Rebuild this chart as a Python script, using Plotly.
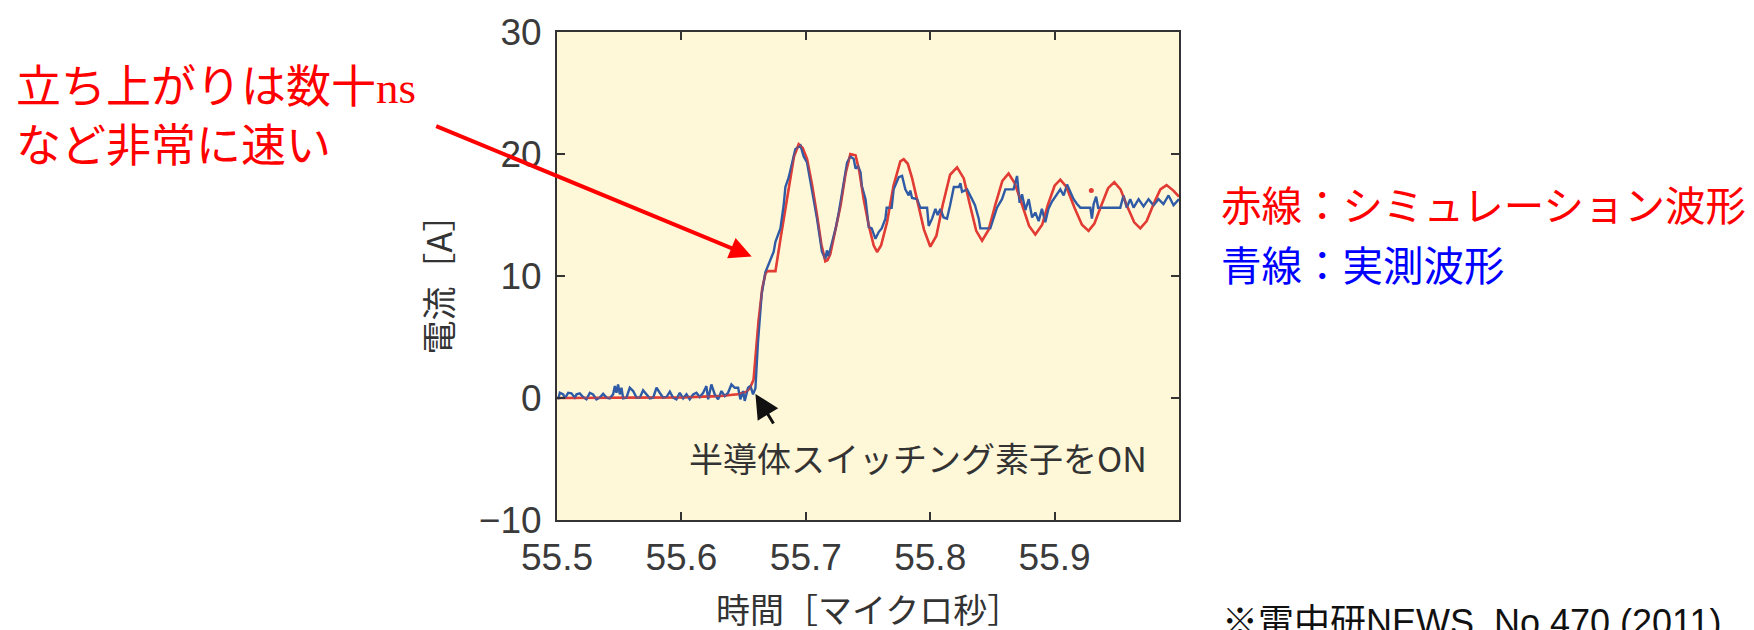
import plotly.graph_objects as go

# ---------------- data ----------------
red_x = [55.50, 55.55, 55.60, 55.63, 55.645, 55.652, 55.655, 55.658, 55.662, 55.665,
         55.6676, 55.669, 55.6756, 55.6796, 55.6863, 55.6905, 55.6943, 55.6975, 55.701, 55.705,
         55.709, 55.7125, 55.7157, 55.7175, 55.7197, 55.724, 55.728, 55.732, 55.7358, 55.74,
         55.743, 55.7465, 55.7505, 55.7546, 55.7573, 55.7605, 55.7653, 55.7705, 55.776, 55.7787,
         55.782, 55.7855, 55.7894, 55.795, 55.8001, 55.805, 55.81, 55.816, 55.8216, 55.827,
         55.832, 55.837, 55.8417, 55.847, 55.8525, 55.858, 55.863, 55.868, 55.874, 55.8795,
         55.8845, 55.89, 55.8945, 55.90, 55.9046, 55.9095, 55.916, 55.922, 55.9273, 55.932,
         55.938, 55.943, 55.948, 55.953, 55.958, 55.964, 55.9689, 55.974, 55.98, 55.985,
         55.990, 55.9955, 56.0]
red_y = [0.0, 0.0, 0.05, 0.15, 0.3, 0.5, 0.8, 1.5, 6.3, 9.0,
         10.2, 10.4, 10.4, 13.0, 17.1, 19.8, 20.8, 20.5, 19.6, 17.5,
         15.0, 12.6, 11.2, 11.3, 11.8, 13.8, 15.8, 18.4, 20.0, 19.9,
         18.6, 16.3, 14.2, 12.5, 11.97, 12.5, 14.4, 17.4, 19.4, 19.57,
         19.2, 18.0, 16.3, 13.8, 12.4, 13.3, 15.8, 18.3, 18.9, 18.0,
         15.8, 13.7, 12.9, 13.8, 15.9, 17.8, 18.4, 17.6, 15.8, 14.1,
         13.4, 14.2, 15.8, 17.4, 17.9, 17.3, 15.6, 14.2, 13.7, 14.3,
         15.9, 17.2, 17.7, 17.1, 15.8, 14.4, 13.9, 14.5, 16.0, 17.1,
         17.45, 17.0, 16.5]

blue_x = [55.5009, 55.5023, 55.505, 55.5063, 55.509, 55.5116, 55.5143, 55.5157, 55.5183, 55.521,
          55.5237, 55.5264, 55.529, 55.5317, 55.5344, 55.5371, 55.5398, 55.5424, 55.5451, 55.5465,
          55.5478, 55.5491, 55.5505, 55.5518, 55.5532, 55.5558, 55.5585, 55.5612, 55.5639, 55.5666,
          55.5692, 55.5719, 55.5746, 55.5773, 55.58, 55.5826, 55.5853, 55.588, 55.5907, 55.5933,
          55.596, 55.5987, 55.6014, 55.6041, 55.6067, 55.6094, 55.6121, 55.6148, 55.6175, 55.6201,
          55.6215, 55.6241, 55.6268, 55.6295, 55.6322, 55.6349, 55.6375, 55.6402, 55.6429, 55.6456,
          55.6474, 55.6496, 55.6509, 55.6536, 55.6555, 55.6576, 55.6595, 55.6615, 55.6645, 55.6675,
          55.670, 55.6716, 55.6742, 55.6756, 55.6782, 55.6796, 55.6822, 55.6836, 55.6863, 55.689,
          55.6916, 55.6957, 55.6983, 55.701, 55.705, 55.709, 55.713, 55.7157, 55.717, 55.7185,
          55.7197, 55.724, 55.7265, 55.7305, 55.7332, 55.7358, 55.7385, 55.74, 55.742, 55.744,
          55.745, 55.748, 55.7506, 55.753, 55.756, 55.7586, 55.761, 55.764, 55.765, 55.769,
          55.7706, 55.7747, 55.7774, 55.78, 55.7827, 55.784, 55.7854, 55.7894, 55.792, 55.7975,
          55.7988, 55.8015, 55.8042, 55.806, 55.8082, 55.8108, 55.8135, 55.816, 55.819, 55.823,
          55.8243, 55.8256, 55.8296, 55.8336, 55.836, 55.839, 55.8403, 55.8483, 55.851, 55.8537,
          55.8577, 55.8604, 55.867, 55.8698, 55.8719, 55.8738, 55.8765, 55.8792, 55.8819, 55.8845,
          55.8872, 55.8898, 55.8925, 55.895, 55.8979, 55.9006, 55.9046, 55.9073, 55.91, 55.9126,
          55.9153, 55.918, 55.9207, 55.9287, 55.930, 55.9314, 55.9334, 55.935, 55.9394, 55.9528,
          55.9554, 55.958, 55.9608, 55.9635, 55.9675, 55.9715, 55.9755, 55.9795, 55.9835, 55.9875,
          55.9916, 55.9956, 56.0]
blue_y = [-0.11, 0.43, 0.3, -0.03, 0.43, 0.38, 0.03, 0.3, 0.38, 0.08,
          -0.11, 0.43, 0.3, -0.11, 0.03, 0.35, 0.03, -0.03, 0.3, 0.98,
          0.43, 1.11, 0.3, 0.84, -0.03, 0.03, 0.84, 0.57, 0.03, 0.03,
          0.63, 0.3, -0.03, 0.03, 0.84, 0.43, 0.03, 0.08, 0.52, 0.03,
          -0.11, 0.43, -0.03, 0.3, -0.11, 0.3, 0.43, 0.08, 0.43, 0.98,
          -0.11, 1.11, 0.3, -0.11, 0.57, 0.16, 0.43, 1.11, 0.84, 0.84,
          -0.11, 0.57, -0.24, 0.84, 0.98, 0.3, 0.8, 4.5, 8.5, 10.3,
          10.9, 11.3, 12.0, 12.8, 13.6, 13.9, 15.8, 17.3, 18.1, 19.3,
          20.4, 20.7, 19.8, 19.3, 17.1, 14.7, 12.0, 11.4, 12.1, 11.6,
          12.2, 13.9, 15.2, 17.7, 19.3, 19.8, 19.6, 18.8, 19.0, 18.5,
          17.4, 16.3, 14.0, 13.9, 13.05, 13.6, 13.9, 14.7, 15.6, 15.6,
          17.1, 18.1, 18.2, 17.1, 16.6, 17.0, 16.4, 16.3, 15.6, 15.6,
          14.1, 14.7, 15.5, 15.0, 15.5, 14.8, 14.7, 15.8, 17.3, 17.3,
          17.6, 16.9, 17.1, 16.3, 15.8, 14.7, 13.9, 13.9, 14.7, 15.6,
          16.3, 17.1, 17.1, 18.2, 16.0, 16.7, 15.4, 16.3, 14.8, 15.2,
          14.5, 15.5, 14.4, 15.5, 16.1, 16.5, 17.1, 16.6, 17.5, 16.9,
          16.3, 15.9, 15.6, 15.6, 14.7, 15.9, 16.5, 15.6, 15.6, 15.6,
          16.6, 15.6, 16.3, 15.6, 16.3, 15.7, 16.3, 15.8, 16.3, 15.9,
          16.6, 15.8, 16.3]

dot_x = [55.9295]
dot_y = [17.0]

x_ticks = [55.5, 55.6, 55.7, 55.8, 55.9]
x_tick_text = ["55.5", "55.6", "55.7", "55.8", "55.9"]
y_ticks = [-10, 0, 10, 20, 30]
y_tick_text = ["\u221210", "0", "10", "20", "30"]

x_title = "時間［マイクロ秒］"
y_title = "電流［A］"
note_on = "半導体スイッチング素子をON"
red_note = "立ち上がりは数十<span style=\"font-family:'Liberation Serif', serif\">ns</span><br>など非常に速い"
legend_red = "赤線：シミュレーション波形"
legend_blue = "青線：実測波形"
citation = "※電中研NEWS\u00a0 No.470 (2011)"

# ---------------- figure ----------------
W, H = 1754, 630
PL, PR, PT, PB = 557, 1179, 29, 520          # plot area in page pixels
PW, PH = PR - PL, PB - PT
JP = "'Noto Sans CJK JP', sans-serif"
AXC = "#333333"


def px(xp):
    return (xp - PL) / PW


def py(yp):
    return (PB - yp) / PH


fig = go.Figure()
fig.add_trace(go.Scatter(x=red_x, y=red_y, mode="lines",
                         line=dict(color="#E23D35", width=2.6), showlegend=False))
fig.add_trace(go.Scatter(x=blue_x, y=blue_y, mode="lines",
                         line=dict(color="#2E5AA6", width=2.4), showlegend=False))
fig.add_trace(go.Scatter(x=red_x, y=red_y, mode="lines",
                         line=dict(color="#E23D35", width=1.6), opacity=0.55, showlegend=False))
fig.add_trace(go.Scatter(x=dot_x, y=dot_y, mode="markers",
                         marker=dict(color="#E23D35", size=5), showlegend=False))

axis_common = dict(showgrid=False, zeroline=False, showline=True, linecolor=AXC, linewidth=2,
                   mirror="ticks", ticks="inside", ticklen=8, tickwidth=1.6, tickcolor=AXC,
                   tickfont=dict(family="'Liberation Sans', Arial, sans-serif", size=37, color="#3a3a3a"))

fig.update_layout(
    width=W, height=H,
    margin=dict(l=PL, r=W - PR, t=PT, b=H - PB, pad=0),
    paper_bgcolor="white", plot_bgcolor="#FFF8D8",
    xaxis=dict(range=[55.5, 56.0], tickvals=x_ticks, ticktext=x_tick_text,
               ticklabelstandoff=4, **axis_common),
    yaxis=dict(range=[-10, 30], tickvals=y_ticks, ticktext=y_tick_text,
               ticklabelstandoff=6, **axis_common),
    showlegend=False,
)

ann = []
# axis titles
ann.append(dict(xref="paper", yref="paper", x=px(868), y=py(609), text=x_title,
                showarrow=False, xanchor="center", yanchor="middle",
                font=dict(family=JP, size=34, color="#333333")))
ann.append(dict(xref="paper", yref="paper", x=px(437), y=py(275), text=y_title,
                showarrow=False, xanchor="center", yanchor="middle", textangle=-90,
                font=dict(family=JP, size=34, color="#333333")))
# in-plot note with black arrow
ann.append(dict(xref="x", yref="y", x=55.7905, y=-4.9, text=note_on, showarrow=False,
                xanchor="center", yanchor="middle",
                font=dict(family=JP, size=34, color="#333333")))
ann.append(dict(xref="x", yref="y", x=55.6595, y=0.33, text="", showarrow=True,
                ax=19, ay=31, arrowhead=2, arrowsize=1.6, arrowwidth=3, arrowcolor="#111111"))
# red comment + red arrow
ann.append(dict(xref="paper", yref="paper", x=px(14), y=py(111), text=red_note,
                showarrow=False, xanchor="left", yanchor="middle", align="left",
                font=dict(family=JP, size=45, color="#FF0000")))
ann.append(dict(xref="x", yref="y", x=55.6565, y=11.6, text="", showarrow=True,
                ax=-317, ay=-131, arrowhead=2, arrowsize=1.1, arrowwidth=4, arrowcolor="#FF0000"))
# legend texts
ann.append(dict(xref="paper", yref="paper", x=px(1219), y=py(202), text=legend_red,
                showarrow=False, xanchor="left", yanchor="middle",
                font=dict(family=JP, size=40.5, color="#FF0000")))
ann.append(dict(xref="paper", yref="paper", x=px(1219), y=py(262), text=legend_blue,
                showarrow=False, xanchor="left", yanchor="middle",
                font=dict(family=JP, size=40.5, color="#0000FF")))
# citation (cut by the bottom edge, as in the source)
ann.append(dict(xref="paper", yref="paper", x=px(1220), y=py(600), text=citation,
                showarrow=False, xanchor="left", yanchor="top",
                font=dict(family="'Liberation Sans', 'Noto Sans CJK JP', sans-serif",
                          size=36, color="#111111")))
fig.update_layout(annotations=ann)

fig.write_html("out.html", config={"displayModeBar": False},
               post_script="document.body.style.margin='0';document.body.style.overflow='hidden';")
